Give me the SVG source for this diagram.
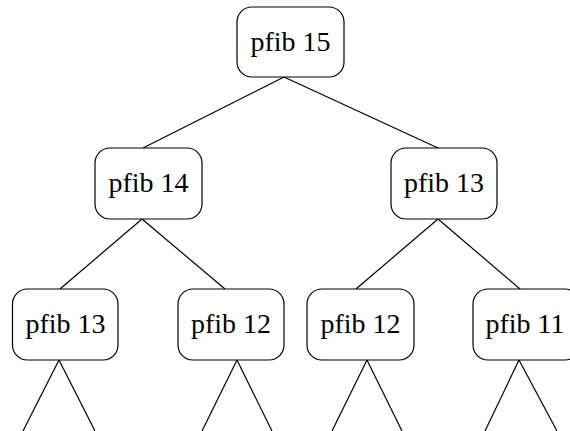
<svg xmlns="http://www.w3.org/2000/svg" width="570" height="431" viewBox="0 0 570 431">
<style>
.box{fill:#fff;stroke:#000;stroke-width:1.2}
.lbl{font-family:"Liberation Serif","Times New Roman",serif;font-size:28px;fill:#000;text-anchor:middle}
.edge{stroke:#000;stroke-width:1.2;fill:none}
</style>
<rect width="570" height="431" fill="#fff"/>
<g id="connectors">
<line class="edge" x1="284" y1="77" x2="143" y2="148"/>
<line class="edge" x1="284" y1="77" x2="438" y2="148"/>
<line class="edge" x1="142" y1="219" x2="60" y2="289"/>
<line class="edge" x1="142" y1="219" x2="225" y2="289"/>
<line class="edge" x1="438" y1="219" x2="356" y2="289"/>
<line class="edge" x1="438" y1="219" x2="520" y2="289"/>
<line class="edge" x1="59" y1="360" x2="23" y2="431"/>
<line class="edge" x1="59" y1="360" x2="95" y2="431"/>
<line class="edge" x1="237" y1="360" x2="202" y2="431"/>
<line class="edge" x1="237" y1="360" x2="272" y2="431"/>
<line class="edge" x1="367" y1="360" x2="332" y2="431"/>
<line class="edge" x1="367" y1="360" x2="402" y2="431"/>
<line class="edge" x1="519" y1="360" x2="485" y2="431"/>
<line class="edge" x1="519" y1="360" x2="557" y2="431"/>
</g>
<g id="n15"><rect class="box" x="237" y="7" width="107" height="70" rx="15"/><text class="lbl" x="290.5" y="51">pfib 15</text></g>
<g id="n14"><rect class="box" x="95" y="148" width="107" height="71" rx="15"/><text class="lbl" x="148.5" y="192">pfib 14</text></g>
<g id="n13a"><rect class="box" x="391" y="148" width="106" height="71" rx="15"/><text class="lbl" x="444" y="192">pfib 13</text></g>
<g id="n13b"><rect class="box" x="12.5" y="289" width="105.5" height="71" rx="15"/><text class="lbl" x="65.5" y="333">pfib 13</text></g>
<g id="n12a"><rect class="box" x="178" y="289" width="106" height="71" rx="15"/><text class="lbl" x="231" y="333">pfib 12</text></g>
<g id="n12b"><rect class="box" x="307" y="289" width="107" height="71" rx="15"/><text class="lbl" x="360.5" y="333">pfib 12</text></g>
<g id="n11"><rect class="box" x="473" y="289" width="107" height="71" rx="15"/><text class="lbl" x="525" y="333">pfib 11</text></g>
</svg>
